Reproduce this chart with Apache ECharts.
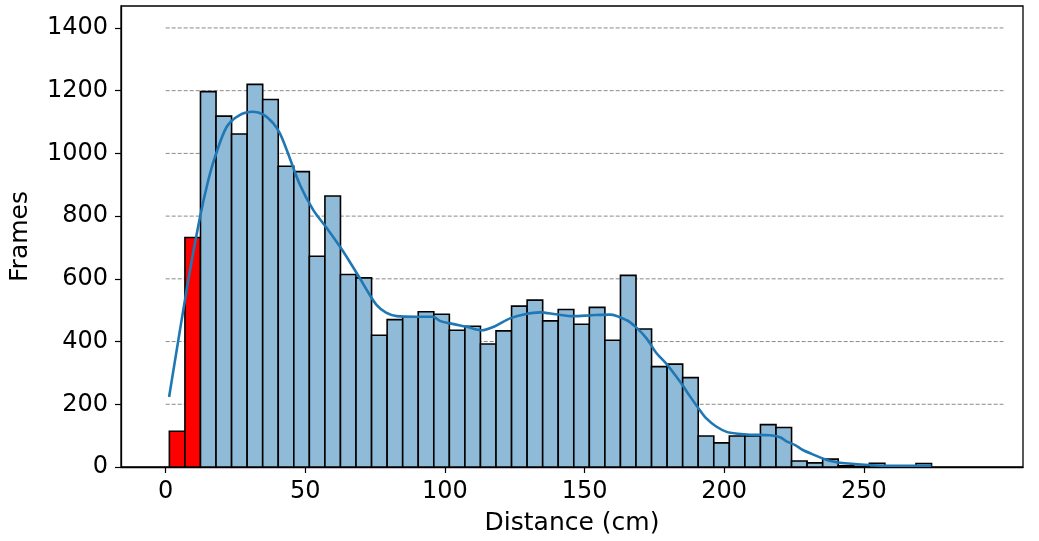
<!DOCTYPE html>
<html>
<head>
<meta charset="utf-8">
<script src="https://cdn.jsdelivr.net/npm/echarts@6/dist/echarts.min.js"></script>
<style>
  html, body { margin: 0; padding: 0; background: #fff; }
  #chart { width: 1039px; height: 541px; }
</style>
</head>
<body>
<div id="chart"></div>
<script>
// Histogram of distances: bins start at binStart, each binWidth wide
const binStart = 1.32;
const binWidth = 5.57;
const counts = [
  114, 732, 1197, 1119, 1062, 1220, 1172, 959, 942, 672,
  864, 614, 603, 420, 470, 478, 495, 487, 436, 449,
  392, 434, 513, 532, 466, 502, 455, 509, 404, 611,
  440, 320, 328, 285, 99, 77, 99, 99, 135, 126,
  19, 13, 25, 4, 2, 12, 1, 1, 11
];
// bins shown in red (closest distances)
const alertBins = [0, 1];

// Density estimate curve, scaled to frame counts: [distance, frames]
const kdeX = [
  1.22, 8.13, 12.31, 15.28, 17.68, 21.87, 26.63, 31.39, 34.97, 38.55,
  40.9, 43.35, 48.11, 52.87, 57.67, 62.43, 66.0, 69.59, 72.45, 75.57, 78.9,
  82.73, 89.88, 95.7, 98.2, 101.8, 107.8, 113.2, 117.9, 123.3, 128.6,
  134.0, 139.7, 145.9, 152.6, 159.1, 165.1, 168.4, 172.2, 175.5, 179.4,
  182.7, 185.3, 187.7, 191.3, 193.7, 197.0, 200.9, 205.0, 209.2, 216.4,
  220.0, 222.3, 225.4, 228.0, 231.3, 237.3, 244.4, 254.5, 264.0, 274.2
];
const kdeY = [
  223, 598, 798, 915, 989, 1085, 1123, 1133, 1124, 1096,
  1064, 1011, 899, 819, 762, 702, 653, 601, 558, 516, 492,
  481, 479, 479, 466, 458, 447, 436, 449, 474, 487,
  493, 487, 481, 484, 486, 468, 446, 410, 366, 328,
  290, 258, 226, 181, 154, 130, 112, 106, 103, 101,
  95, 82, 70, 55, 42, 21, 11, 5, 4, 4
];

// Axis ticks and dashed reference lines
const xTicks = [0, 50, 100, 150, 200, 250];
const yTicks = [0, 200, 400, 600, 800, 1000, 1200, 1400];
const refLines = [200, 400, 600, 800, 1000, 1200, 1400];
const refLineSpan = [0, 300];

const font = 'DejaVu Sans';

const barData = counts.map((c, i) => [binStart + i * binWidth, binStart + (i + 1) * binWidth, c, alertBins.includes(i) ? 1 : 0]);
const kdeData = kdeX.map((x, i) => [x, kdeY[i]]);
const refData = refLines.map(v => [refLineSpan[0], v, refLineSpan[1]]);

const chart = echarts.init(document.getElementById('chart'), null, { renderer: 'canvas' });

chart.setOption({
  animation: false,
  backgroundColor: '#ffffff',
  grid: {
    left: 121, right: 16, top: 6, bottom: 74,
    show: true, borderColor: '#000', borderWidth: 1.3, backgroundColor: 'transparent'
  },
  xAxis: {
    type: 'value',
    min: -16, max: 307,
    name: 'Distance (cm)',
    nameLocation: 'middle',
    nameGap: 44,
    nameTextStyle: { fontFamily: font, fontSize: 25, color: '#000' },
    axisLine: { show: true, onZero: false, lineStyle: { color: '#000', width: 1.3 } },
    axisTick: { show: true, length: 6, lineStyle: { color: '#000', width: 1.2 }, customValues: xTicks },
    axisLabel: { fontFamily: font, fontSize: 24, color: '#000', margin: 13, customValues: xTicks,
      formatter: v => String(v) },
    splitLine: { show: false }
  },
  yAxis: {
    type: 'value',
    min: 0, max: 1470,
    name: 'Frames',
    nameLocation: 'middle',
    nameGap: 88,
    nameTextStyle: { fontFamily: font, fontSize: 25, color: '#000' },
    axisLine: { show: true, onZero: false, lineStyle: { color: '#000', width: 1.3 } },
    axisTick: { show: true, length: 6, lineStyle: { color: '#000', width: 1.2 }, customValues: yTicks },
    axisLabel: { fontFamily: font, fontSize: 24, color: '#000', margin: 13, customValues: yTicks,
      formatter: v => String(v) },
    splitLine: { show: false }
  },
  series: [
    {
      type: 'custom',
      name: 'reference',
      z: 1,
      silent: true,
      encode: { x: [0, 2], y: 1 },
      data: refData,
      renderItem: function (params, api) {
        const p0 = api.coord([api.value(0), api.value(1)]);
        const p1 = api.coord([api.value(2), api.value(1)]);
        return {
          type: 'line',
          shape: { x1: p0[0], y1: p0[1], x2: p1[0], y2: p1[1] },
          style: { stroke: '#8a8a8a', lineWidth: 1, lineDash: [4, 2] }
        };
      }
    },
    {
      type: 'custom',
      name: 'Frames',
      z: 2,
      encode: { x: [0, 1], y: 2 },
      data: barData,
      renderItem: function (params, api) {
        const top = api.coord([api.value(0), api.value(2)]);
        const base = api.coord([api.value(1), 0]);
        const alert = api.value(3) === 1;
        return {
          type: 'rect',
          shape: { x: top[0], y: top[1], width: base[0] - top[0], height: base[1] - top[1] },
          style: { fill: alert ? '#ff0000' : '#8fbbd9', stroke: '#000', lineWidth: 1.6 }
        };
      }
    },
    {
      type: 'line',
      name: 'KDE',
      z: 3,
      data: kdeData,
      smooth: 0.3,
      showSymbol: false,
      lineStyle: { color: '#1f77b4', width: 2.6 }
    }
  ]
});
</script>
</body>
</html>
